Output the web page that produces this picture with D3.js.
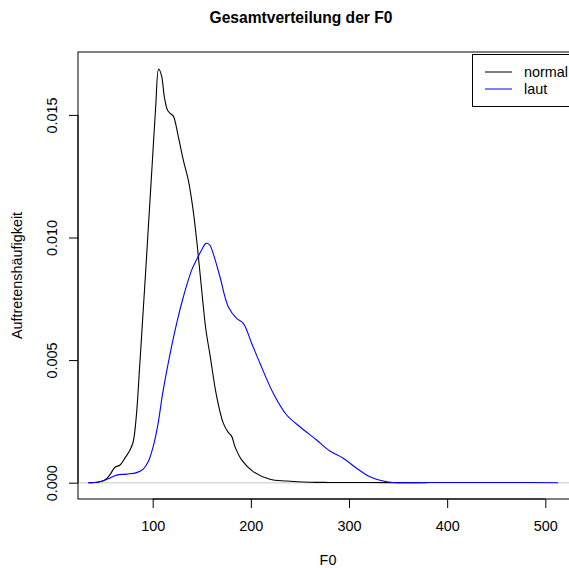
<!DOCTYPE html>
<html>
<head>
<meta charset="utf-8">
<script src="https://cdn.jsdelivr.net/npm/d3@7"></script>
<style>
  html, body { margin: 0; padding: 0; background: #fff; }
  svg { display: block; font-family: "Liberation Sans", Arial, Helvetica, sans-serif; }
</style>
</head>
<body>
<svg id="chart" width="569" height="568"></svg>
<script>
// Kernel density estimates of F0 (Hz) for the two speaking conditions
const normalF0 = [34.4, 45, 51.4, 56, 61.6, 66.7, 71.8, 76.9, 80.2, 83.5, 86.5, 89.5, 92.5,
  96, 99.5, 103, 106.1, 109, 112, 115, 118, 121.0, 126.1, 131.2, 136.3, 140.7, 144.8, 149.9,
  154, 158.4, 165.2, 171.9, 177, 180.4, 183.8, 190.6, 202.4, 219.4, 236.5, 260, 280, 320, 380];
const normalDensity = [0, 0.00003, 0.00011, 0.0003, 0.00063, 0.00072, 0.00101, 0.00133, 0.00168,
  0.0028, 0.0046, 0.0065, 0.0084, 0.0107, 0.0130, 0.0153, 0.01687, 0.0166, 0.0157, 0.0152,
  0.01505, 0.01495, 0.01411, 0.01316, 0.01234, 0.01126, 0.0099, 0.00786, 0.0063, 0.00520,
  0.00351, 0.00243, 0.00205, 0.00190, 0.00147, 0.00093, 0.00045, 0.00014, 0.00007, 0.00002,
  0.00001, 0.000005, 0];

const lautF0 = [34.4, 45, 51.4, 57, 63.3, 73.5, 83.7, 90.4, 95.5, 100, 105, 110, 115, 120, 125,
  130, 135, 140, 146, 150, 154.3, 158, 162, 168.5, 177.0, 185.5, 192.3, 200.8, 209.3, 222.8,
  236.5, 250, 267, 280.5, 294.1, 307.7, 321.3, 334.8, 345, 380, 420, 460, 513];
const lautDensity = [0, 0.00003, 0.00011, 0.0002, 0.00031, 0.00035, 0.00041, 0.00055, 0.00086,
  0.0014, 0.0023, 0.0036, 0.0047, 0.0057, 0.0066, 0.0074, 0.0081, 0.0087, 0.0092, 0.0095,
  0.00976, 0.0097, 0.0093, 0.0084, 0.00718, 0.0067, 0.0065, 0.00569, 0.00487, 0.00365,
  0.00276, 0.00228, 0.00174, 0.00129, 0.001, 0.00059, 0.00024, 0.00007, 0.00001, 0.00001,
  0.00001, 0.00001, 0];

const xTicks = [100, 200, 300, 400, 500];
const yTicks = [0, 0.005, 0.010, 0.015];
const seriesNames = ["normal", "laut"];
const seriesColors = ["#000000", "#0000ff"];

const svg = d3.select("#chart");

const plot = { left: 78, right: 578, top: 52, bottom: 499 };
const x = d3.scaleLinear().domain([23.9, 533.3]).range([plot.left, plot.right]);
const y = d3.scaleLinear().domain([-0.000665, 0.017565]).range([plot.bottom, plot.top]);

svg.append("clipPath").attr("id", "plotclip")
  .append("rect")
  .attr("x", plot.left).attr("y", plot.top)
  .attr("width", plot.right - plot.left).attr("height", plot.bottom - plot.top);

// zero reference line
svg.append("line")
  .attr("x1", plot.left).attr("x2", plot.right)
  .attr("y1", y(0)).attr("y2", y(0))
  .attr("stroke", "#d9d9d9").attr("stroke-width", 1.5);

const line = d3.line()
  .x(d => x(d[0]))
  .y(d => y(d[1]))
  .curve(d3.curveCatmullRom.alpha(0.5));

const series = [
  d3.zip(normalF0, normalDensity),
  d3.zip(lautF0, lautDensity)
];

const g = svg.append("g").attr("clip-path", "url(#plotclip)");
series.forEach((s, i) => {
  g.append("path")
    .datum(s)
    .attr("d", line)
    .attr("fill", "none")
    .attr("stroke", seriesColors[i])
    .attr("stroke-width", 1.1)
    .attr("stroke-linejoin", "round");
});

// plot frame
svg.append("rect")
  .attr("x", plot.left).attr("y", plot.top)
  .attr("width", plot.right - plot.left).attr("height", plot.bottom - plot.top)
  .attr("fill", "none").attr("stroke", "#000").attr("stroke-width", 1);

// x axis
const xAxis = d3.axisBottom(x).tickValues(xTicks).tickSize(9).tickPadding(13)
  .tickFormat(d3.format("d"));
const gx = svg.append("g").attr("transform", `translate(0,${plot.bottom})`).call(xAxis);
gx.select(".domain").attr("d", `M${x(xTicks[0])},0H${x(xTicks[xTicks.length - 1])}`);
gx.selectAll("text").attr("font-size", 14.4).attr("font-family", null).attr("fill", "#000");
gx.selectAll("line").attr("stroke", "#000");

// y axis with labels running upwards
const yAxis = d3.axisLeft(y).tickValues(yTicks).tickSize(9).tickFormat(d3.format(".3f"));
const gy = svg.append("g").attr("transform", `translate(${plot.left},0)`).call(yAxis);
gy.select(".domain").attr("d", `M0,${y(yTicks[0])}V${y(yTicks[yTicks.length - 1])}`);
gy.selectAll("line").attr("stroke", "#000");
gy.selectAll(".tick text")
  .attr("font-size", 14.4).attr("font-family", null).attr("fill", "#000")
  .attr("x", null).attr("dy", null)
  .attr("text-anchor", "middle")
  .attr("transform", "translate(-26,0) rotate(-90)")
  .attr("dy", "0.35em");

// titles
svg.append("text")
  .attr("x", 301).attr("y", 23)
  .attr("text-anchor", "middle")
  .attr("font-size", 15.6).attr("font-weight", "bold")
  .text("Gesamtverteilung der F0");

svg.append("text")
  .attr("x", 328).attr("y", 565)
  .attr("text-anchor", "middle")
  .attr("font-size", 14.4)
  .text("F0");

svg.append("text")
  .attr("transform", `translate(22,${(plot.top + plot.bottom) / 2}) rotate(-90)`)
  .attr("text-anchor", "middle")
  .attr("font-size", 14.4)
  .text("Auftretenshäufigkeit");

// legend
const legend = svg.append("g");
legend.append("rect")
  .attr("x", 472.5).attr("y", 54.5).attr("width", 130).attr("height", 52)
  .attr("fill", "#fff").attr("stroke", "#000").attr("stroke-width", 1);
seriesNames.forEach((name, i) => {
  const ly = 72 + i * 17;
  legend.append("line")
    .attr("x1", 485).attr("x2", 512).attr("y1", ly).attr("y2", ly)
    .attr("stroke", seriesColors[i]).attr("stroke-width", 1);
  legend.append("text")
    .attr("x", 524).attr("y", ly).attr("dy", "0.35em")
    .attr("font-size", 14.4)
    .text(name);
});
</script>
</body>
</html>
